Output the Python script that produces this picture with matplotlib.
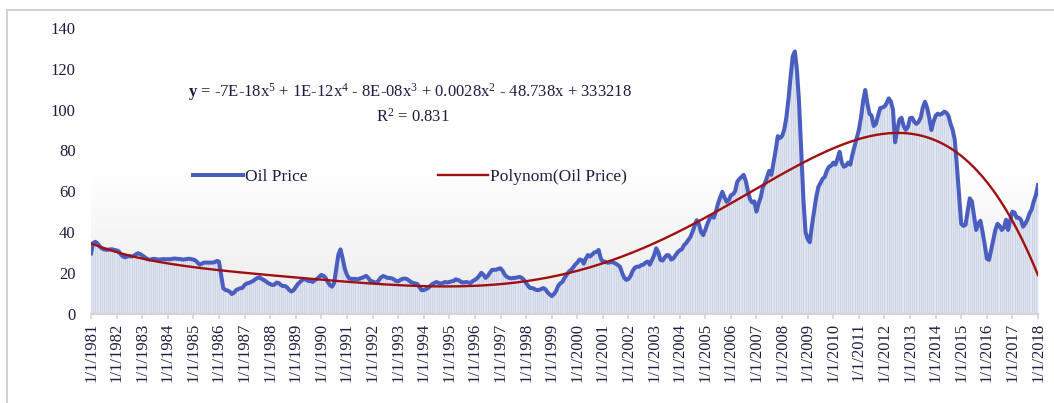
import numpy as np
import matplotlib.pyplot as plt
from matplotlib.colors import LinearSegmentedColormap
from matplotlib.patches import Rectangle

plt.rcParams['font.family'] = ['Liberation Serif', 'DejaVu Serif']
plt.rcParams['mathtext.fontset'] = 'custom'
plt.rcParams['mathtext.rm'] = 'Liberation Serif'
plt.rcParams['mathtext.it'] = 'Liberation Serif:italic'
plt.rcParams['mathtext.bf'] = 'Liberation Serif:bold'

# monthly oil price (Jan..Dec per year)
p1981 = [29.5, 34.5, 35.2, 34.5, 33.0, 32.0, 31.5, 31.3, 31.3, 31.5, 31.5, 31.2]
p1982 = [31.0, 30.5, 29.0, 28.0, 27.6, 28.0, 28.2, 28.0, 28.3, 29.0, 29.6, 29.2]
p1983 = [28.5, 27.8, 27.0, 26.5, 26.5, 26.8, 26.8, 26.5, 26.5, 26.6, 26.7, 26.6]
p1984 = [26.7, 26.6, 26.8, 27.0, 26.9, 26.8, 26.7, 26.5, 26.6, 26.8, 26.9, 26.7]
p1985 = [26.5, 26.0, 25.0, 24.0, 24.5, 25.0, 25.0, 25.0, 25.0, 25.0, 25.2, 25.8]
p1986 = [25.5, 19.0, 12.5, 11.6, 11.3, 10.8, 9.6, 10.2, 11.5, 12.0, 12.4, 12.6]
p1987 = [14.0, 14.8, 15.0, 15.5, 16.0, 16.8, 17.5, 17.8, 17.0, 16.5, 15.8, 15.0]
p1988 = [14.5, 14.0, 14.2, 15.2, 15.0, 14.0, 13.5, 13.5, 12.8, 11.5, 10.8, 11.5]
p1989 = [13.0, 14.5, 15.5, 16.5, 17.0, 16.5, 16.0, 16.0, 15.5, 16.5, 17.0, 18.0]
p1990 = [19.0, 18.5, 17.5, 15.5, 14.0, 13.2, 15.0, 22.0, 29.0, 31.5, 27.0, 22.0]
p1991 = [19.0, 17.3, 17.0, 17.0, 17.0, 16.8, 17.2, 17.5, 18.0, 18.5, 17.5, 16.0]
p1992 = [15.8, 15.3, 15.0, 16.5, 17.8, 18.4, 18.0, 17.5, 17.5, 17.3, 16.8, 16.0]
p1993 = [15.8, 16.5, 17.0, 17.2, 17.0, 16.3, 15.5, 15.0, 14.8, 14.5, 13.0, 11.5]
p1994 = [11.5, 12.0, 12.5, 13.5, 14.5, 15.0, 15.5, 15.0, 14.8, 15.0, 15.5, 15.2]
p1995 = [15.5, 15.8, 16.0, 16.8, 16.5, 16.0, 15.2, 15.3, 15.5, 15.2, 15.0, 16.0]
p1996 = [16.5, 17.3, 18.5, 20.0, 19.0, 17.5, 18.5, 20.0, 21.4, 21.5, 21.5, 22.0]
p1997 = [22.2, 21.0, 19.0, 18.0, 17.5, 17.3, 17.5, 17.5, 17.8, 18.0, 17.5, 16.5]
p1998 = [15.0, 13.5, 12.5, 12.5, 12.0, 11.5, 11.6, 12.0, 12.5, 12.0, 10.5, 9.5]
p1999 = [8.6, 9.5, 11.0, 13.5, 14.8, 15.5, 17.5, 19.0, 20.5, 21.4, 22.5, 24.0]
p2000 = [25.0, 26.5, 26.3, 24.5, 27.0, 28.7, 28.0, 29.0, 30.0, 30.3, 31.2, 27.0]
p2001 = [25.4, 25.5, 25.0, 25.0, 25.5, 25.0, 24.5, 23.8, 23.0, 20.0, 17.5, 16.5]
p2002 = [17.0, 18.5, 21.0, 22.5, 23.0, 23.0, 23.8, 24.0, 25.0, 25.5, 24.0, 26.3]
p2003 = [28.5, 32.0, 30.0, 26.3, 26.0, 27.5, 28.7, 28.5, 26.5, 27.0, 28.5, 30.0]
p2004 = [31.0, 31.5, 33.5, 34.5, 36.0, 37.5, 40.0, 43.0, 45.8, 44.0, 40.0, 38.5]
p2005 = [41.0, 44.0, 46.5, 48.0, 47.0, 50.0, 54.0, 57.0, 59.7, 57.0, 54.8, 55.5]
p2006 = [58.0, 58.5, 60.0, 64.6, 66.0, 67.0, 68.0, 65.0, 60.0, 56.0, 54.5, 55.0]
p2007 = [50.0, 54.0, 57.0, 62.0, 64.0, 67.0, 70.0, 68.0, 74.0, 80.0, 87.0, 86.0]
p2008 = [87.0, 90.0, 96.0, 105.0, 116.0, 126.0, 128.5, 119.0, 103.0, 80.0, 56.0, 40.0]
p2009 = [36.5, 35.0, 43.0, 50.0, 57.0, 62.0, 64.0, 66.0, 67.0, 70.0, 72.0, 72.5]
p2010 = [74.0, 73.0, 76.0, 79.3, 74.0, 72.0, 72.5, 74.0, 73.0, 78.0, 82.0, 86.0]
p2011 = [90.0, 96.0, 104.0, 109.6, 103.0, 98.0, 97.0, 92.0, 93.0, 97.0, 100.7, 101.0]
p2012 = [101.5, 103.0, 105.5, 104.0, 100.0, 84.0, 90.0, 95.0, 96.0, 92.0, 90.0, 91.5]
p2013 = [95.8, 96.0, 94.0, 93.0, 94.0, 96.0, 101.0, 103.8, 101.0, 96.0, 90.0, 94.0]
p2014 = [97.0, 98.0, 97.5, 98.0, 99.0, 98.5, 97.0, 93.0, 90.0, 85.0, 72.0, 58.0]
p2015 = [44.0, 43.0, 43.5, 50.0, 56.5, 55.0, 48.0, 41.0, 44.0, 45.5, 40.0, 34.0]
p2016 = [27.0, 26.3, 31.0, 36.0, 41.0, 44.0, 43.0, 41.0, 42.0, 46.0, 41.0, 46.0]
p2017 = [50.0, 49.5, 47.0, 47.0, 46.0, 42.6, 44.0, 46.0, 49.0, 51.0, 55.0, 58.0]
p2018 = [63.0]

oil_price = np.array(p1981 + p1982 + p1983 + p1984 + p1985 + p1986 + p1987 + p1988
                     + p1989 + p1990 + p1991 + p1992 + p1993 + p1994 + p1995 + p1996
                     + p1997 + p1998 + p1999 + p2000 + p2001 + p2002 + p2003 + p2004
                     + p2005 + p2006 + p2007 + p2008 + p2009 + p2010 + p2011 + p2012
                     + p2013 + p2014 + p2015 + p2016 + p2017 + p2018)
years = list(range(1981, 2019))
tick_labels = ["1/1/%d" % y for y in years]
y_ticks = [0, 20, 40, 60, 80, 100, 120, 140]

months = np.arange(len(oil_price))

# 5th order polynomial trend, like excel
coeffs = np.polyfit(months / 100.0, oil_price, 5)
trend = np.poly1d(coeffs)(months / 100.0)

text_col = '#1b1f3f'
W, H = 1054, 403

fig = plt.figure(figsize=(W / 100, H / 100), dpi=100)
ax = fig.add_axes([91 / W, 1 - 313.6 / H, (1038 - 91) / W, (313.6 - 28) / H])

# plot area gradient
cmap = LinearSegmentedColormap.from_list('bg', ['#ffffff', '#ffffff', '#ebebeb'])
grad = np.linspace(0, 1, 256).reshape(-1, 1)
ax.imshow(grad, extent=[0, months[-1], 0, 140], aspect='auto', origin='upper',
          cmap=cmap, zorder=0)

ax.fill_between(months, 0, oil_price, color='#e1e5f0', zorder=1, linewidth=0)
ax.vlines(months, 0, oil_price, color='#cdd4e6', linewidth=0.7, zorder=1)
oil_line, = ax.plot(months, oil_price, color='#4a5ec0', linewidth=2.9,
                    solid_joinstyle='round', zorder=3)
trend_line, = ax.plot(months, trend, color='#a01010', linewidth=1.7, zorder=4)

ax.set_xlim(0, months[-1])
ax.set_ylim(0, 140)
ax.set_yticks(y_ticks)
ax.set_xticks(np.arange(0, len(oil_price), 12))
ax.set_xticklabels(tick_labels, rotation=90)

for s in ['left', 'top', 'right']:
    ax.spines[s].set_visible(False)
ax.spines['bottom'].set_color('#d4d4d4')
ax.spines['bottom'].set_linewidth(1.5)
ax.spines['bottom'].set_zorder(5)

ax.tick_params(axis='y', length=0, pad=11, labelsize=12, labelcolor=text_col)
ax.tick_params(axis='x', length=3.5, width=1.2, color='#d4d4d4', pad=3,
               labelsize=12, labelcolor=text_col)

ax.legend([oil_line, trend_line], ['Oil Price', 'Polynom(Oil Price)'], ncol=2,
          loc='center left', bbox_to_anchor=(193 / W, 1 - 177 / H),
          bbox_transform=fig.transFigure, frameon=False, fontsize=12.5,
          handlelength=2.9, handletextpad=0.1, columnspacing=7.5,
          borderpad=0, borderaxespad=0, labelcolor=text_col)

fig.text(410 / W, 1 - 92 / H,
         r'$\mathbf{y}$ = -7E-18x$^{5}$ + 1E-12x$^{4}$ - 8E-08x$^{3}$ + 0.0028x$^{2}$ - 48.738x + 333218',
         ha='center', va='center', fontsize=12, color=text_col)
fig.text(413 / W, 1 - 117 / H, r'R$^{2}$ = 0.831', ha='center', va='center',
         fontsize=12, color=text_col)

# outer chart border
fig.patches.append(Rectangle((7 / W, -0.1), 1.2, 1.1 - 10 / H, transform=fig.transFigure,
                             fill=False, edgecolor='#d2d2d2', linewidth=1.5))

fig.savefig('out.png', dpi=100)
